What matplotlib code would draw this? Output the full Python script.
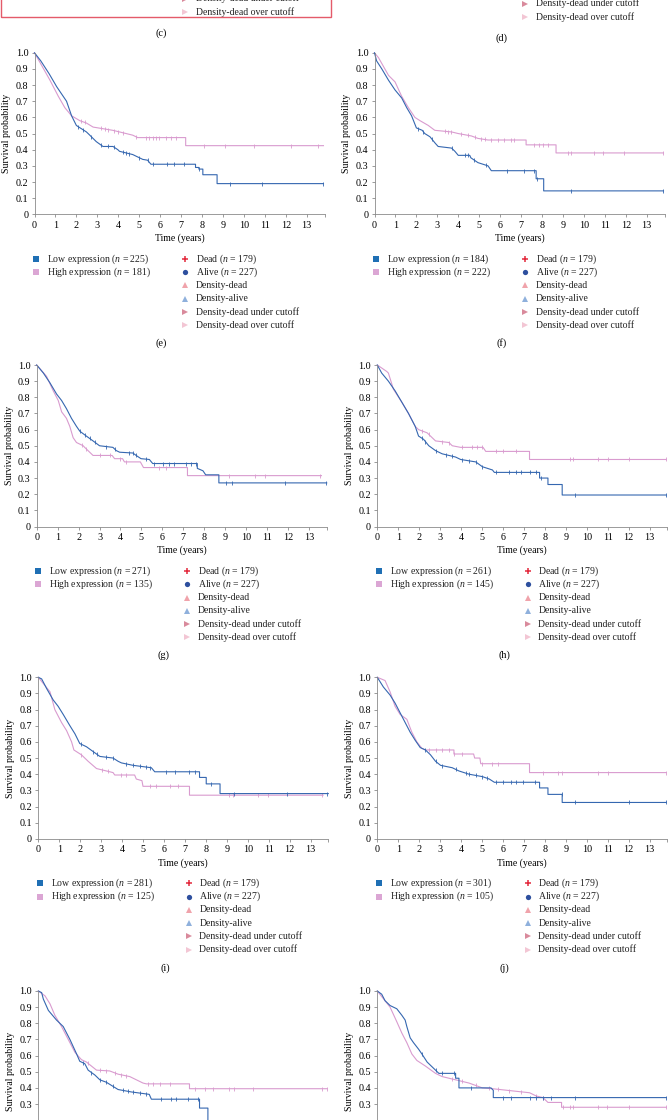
import numpy as np
import matplotlib
matplotlib.use('Agg')
import matplotlib.pyplot as plt
from matplotlib import transforms
from matplotlib.patches import Rectangle

W, H = 671, 1120

plt.rcParams['font.family'] = 'Liberation Serif'
plt.rcParams['mathtext.fontset'] = 'custom'
plt.rcParams['mathtext.rm'] = 'Liberation Serif'
plt.rcParams['mathtext.it'] = 'Liberation Serif:italic'

LOW_COLOR = '#3567b0'
HIGH_COLOR = '#d99bcf'

# ---- data (time in years, survival) ----
e_low_t = [0, 0.3, 0.7, 1.06, 1.53, 1.77, 2.0, 2.24, 2.48, 2.64, 2.95, 3.27, 3.75, 3.98, 4.06, 4.69, 5.17, 5.4, 5.56, 7.69, 7.69, 7.85, 7.85, 8.04, 8.04, 8.72, 8.72, 13.8]
e_low_s = [1.0, 0.95, 0.87, 0.79, 0.70, 0.61, 0.55, 0.53, 0.51, 0.49, 0.45, 0.42, 0.42, 0.40, 0.39, 0.37, 0.34, 0.335, 0.31, 0.31, 0.29, 0.29, 0.28, 0.28, 0.245, 0.245, 0.19, 0.19]
e_low_c = [2.09, 2.32, 2.72, 3.19, 3.51, 3.82, 4.22, 4.38, 4.53, 5.0, 5.4, 5.64, 6.35, 6.67, 7.14, 7.85, 9.35, 10.85, 13.78]
e_high_t = [0, 0.35, 0.74, 1.14, 1.45, 1.77, 2.16, 2.48, 2.8, 3.74, 4.06, 4.69, 4.93, 7.22, 7.22, 13.8]
e_high_s = [1.0, 0.92, 0.83, 0.73, 0.66, 0.61, 0.58, 0.565, 0.54, 0.52, 0.51, 0.49, 0.475, 0.475, 0.425, 0.425]
e_high_c = [2.2, 2.4, 3.19, 3.35, 3.51, 3.82, 3.98, 4.22, 4.85, 5.32, 5.48, 5.64, 5.8, 5.96, 6.27, 6.51, 6.75, 8.09, 9.12, 10.46, 12.27, 13.54]

f_low_t = [0, 0.1, 0.35, 0.67, 0.98, 1.3, 1.54, 1.77, 2.0, 2.28, 2.4, 2.65, 2.9, 3.04, 3.68, 3.84, 4.0, 4.55, 4.6, 4.94, 5.42, 5.58, 7.72, 7.72, 8.08, 8.08, 13.8]
f_low_s = [1.0, 0.95, 0.90, 0.83, 0.77, 0.72, 0.66, 0.61, 0.535, 0.52, 0.50, 0.48, 0.44, 0.42, 0.41, 0.39, 0.365, 0.365, 0.35, 0.32, 0.30, 0.27, 0.27, 0.22, 0.22, 0.145, 0.145]
f_low_c = [2.09, 2.33, 2.73, 3.68, 4.3, 4.45, 4.76, 5.31, 6.34, 7.14, 7.62, 7.78, 9.37, 13.8]
f_high_t = [0, 0.19, 0.67, 0.98, 1.3, 1.62, 1.93, 2.17, 2.57, 2.88, 3.68, 4.0, 4.63, 4.94, 5.42, 7.24, 7.24, 8.67, 8.67, 13.8]
f_high_s = [1.0, 0.97, 0.86, 0.82, 0.73, 0.66, 0.60, 0.58, 0.55, 0.52, 0.51, 0.50, 0.485, 0.47, 0.46, 0.46, 0.43, 0.43, 0.38, 0.38]
f_high_c = [3.35, 3.51, 3.66, 4.14, 4.46, 4.78, 5.1, 5.26, 5.58, 5.9, 6.2, 6.5, 6.66, 7.6, 7.88, 8.03, 8.27, 9.23, 9.39, 10.5, 10.9, 11.9, 13.8]

g_low_t = [0, 0.32, 0.63, 0.95, 1.19, 1.42, 1.66, 1.9, 2.06, 2.37, 2.69, 3.0, 3.64, 3.8, 3.96, 4.59, 4.75, 4.98, 5.38, 5.54, 7.67, 7.67, 7.94, 8.07, 8.7, 8.7, 13.85]
g_low_s = [1.0, 0.95, 0.89, 0.82, 0.78, 0.73, 0.67, 0.62, 0.59, 0.56, 0.53, 0.50, 0.49, 0.47, 0.46, 0.455, 0.44, 0.42, 0.415, 0.39, 0.39, 0.36, 0.345, 0.32, 0.32, 0.27, 0.27]
g_low_c = [2.06, 2.29, 2.53, 2.77, 3.32, 3.72, 4.43, 4.59, 4.75, 5.22, 5.62, 6.01, 6.33, 6.57, 7.12, 7.36, 7.59, 9.02, 9.34, 11.87, 13.84]
g_high_t = [0, 0.47, 0.79, 1.03, 1.19, 1.42, 1.58, 1.74, 1.9, 2.22, 2.29, 2.69, 3.6, 3.72, 4.1, 4.19, 4.95, 5.1, 7.2, 7.2, 13.6]
g_high_s = [1.0, 0.93, 0.84, 0.78, 0.71, 0.67, 0.62, 0.55, 0.52, 0.50, 0.49, 0.44, 0.44, 0.42, 0.42, 0.40, 0.40, 0.365, 0.365, 0.315, 0.315]
g_high_c = [2.14, 2.37, 3.0, 3.48, 3.96, 4.27, 5.85, 6.17, 9.18, 10.44, 10.92, 13.53]

h_low_t = [0, 0.21, 0.53, 0.85, 1.17, 1.49, 1.81, 1.97, 2.21, 2.46, 2.78, 3.1, 3.74, 3.98, 4.7, 5.02, 5.5, 5.59, 7.75, 7.75, 8.15, 8.15, 8.83, 8.83, 13.8]
h_low_s = [1.0, 0.95, 0.90, 0.84, 0.77, 0.70, 0.62, 0.56, 0.54, 0.50, 0.47, 0.45, 0.43, 0.415, 0.40, 0.37, 0.35, 0.335, 0.335, 0.30, 0.30, 0.26, 0.26, 0.195, 0.195]
h_low_c = [2.13, 2.3, 2.78, 3.26, 3.58, 4.06, 4.38, 4.7, 5.02, 5.67, 6.31, 6.63, 6.87, 7.27, 7.59, 7.83, 9.44, 13.8]
h_high_t = [0, 0.45, 0.53, 0.77, 1.17, 1.49, 1.81, 1.97, 2.38, 2.78, 3.42, 3.58, 3.98, 5.05, 5.18, 7.27, 7.27, 13.8]
h_high_s = [1.0, 0.96, 0.95, 0.85, 0.77, 0.70, 0.62, 0.60, 0.58, 0.53, 0.52, 0.50, 0.49, 0.49, 0.465, 0.465, 0.415, 0.415]
h_high_c = [2.13, 2.46, 3.1, 3.42, 4.06, 4.54, 4.78, 5.02, 5.67, 5.99, 6.63, 9.2, 9.36, 10.56, 11.04, 12.0, 13.8]

i_low_t = [0, 0.16, 0.4, 0.71, 0.95, 1.19, 1.51, 1.75, 1.98, 2.3, 2.62, 2.94, 3.57, 3.81, 3.97, 4.52, 5.4, 5.56, 7.7, 7.7, 8.02, 8.02, 8.68, 8.68, 13.85]
i_low_s = [1.0, 0.99, 0.93, 0.86, 0.82, 0.77, 0.70, 0.65, 0.59, 0.57, 0.54, 0.51, 0.50, 0.48, 0.47, 0.455, 0.44, 0.415, 0.415, 0.38, 0.38, 0.34, 0.34, 0.28, 0.28]
i_low_c = [2.06, 2.62, 2.78, 3.25, 3.57, 4.21, 4.52, 4.84, 5.16, 5.32, 6.11, 6.51, 7.22, 7.46, 8.25, 9.37, 11.9, 13.8]
i_high_t = [0, 0.56, 0.79, 1.11, 1.35, 1.59, 1.7, 2.06, 2.38, 2.78, 3.57, 3.65, 4.6, 4.68, 4.95, 5.0, 7.22, 7.22, 13.6]
i_high_s = [1.0, 0.91, 0.80, 0.72, 0.67, 0.60, 0.55, 0.52, 0.48, 0.435, 0.41, 0.395, 0.395, 0.37, 0.36, 0.325, 0.325, 0.27, 0.27]
i_high_c = [2.06, 3.02, 3.33, 3.97, 4.21, 5.32, 5.63, 6.27, 6.67, 9.13, 9.29, 10.48, 10.95, 13.57]

j_low_t = [0, 0.29, 0.61, 0.85, 1.09, 1.33, 1.57, 1.81, 2.05, 2.3, 2.54, 2.78, 3.02, 3.58, 3.9, 4.38, 5.02, 5.35, 5.59, 7.75, 7.75, 8.15, 8.15, 8.83, 8.83, 13.8]
j_low_s = [1.0, 0.94, 0.89, 0.84, 0.78, 0.72, 0.66, 0.61, 0.565, 0.55, 0.52, 0.48, 0.455, 0.44, 0.42, 0.40, 0.385, 0.37, 0.35, 0.35, 0.315, 0.315, 0.275, 0.275, 0.225, 0.225]
j_low_c = [2.3, 2.78, 3.1, 3.74, 4.22, 4.38, 4.7, 5.02, 5.26, 5.67, 5.99, 6.39, 6.63, 6.95, 7.51, 8.8, 9.44, 12.0, 13.8]
j_high_t = [0, 0.37, 0.61, 0.85, 1.09, 1.41, 1.65, 1.89, 2.13, 2.3, 3.66, 3.66, 4.6, 4.65, 4.9, 4.94, 7.27, 7.27, 13.8]
j_high_s = [1.0, 0.98, 0.91, 0.82, 0.77, 0.74, 0.66, 0.60, 0.56, 0.55, 0.55, 0.525, 0.525, 0.50, 0.50, 0.465, 0.465, 0.41, 0.41]
j_high_c = [2.46, 2.78, 3.1, 3.42, 3.66, 4.06, 5.02, 5.5, 5.75, 7.91, 8.64, 8.8, 10.56, 11.04, 13.77]

k_low_t = [0, 0.16, 0.24, 0.48, 0.87, 1.19, 1.51, 1.83, 1.98, 2.22, 2.38, 2.7, 2.94, 3.25, 3.81, 4.44, 5.3, 5.4, 7.7, 7.7, 8.1, 8.1, 13.8]
k_low_s = [1.0, 0.99, 0.95, 0.88, 0.82, 0.78, 0.70, 0.61, 0.565, 0.55, 0.51, 0.48, 0.45, 0.435, 0.39, 0.375, 0.36, 0.33, 0.33, 0.275, 0.275, 0.15, 0.15]
k_low_c = [2.14, 2.54, 2.94, 3.25, 3.57, 4.05, 4.29, 4.52, 4.84, 5.16, 5.87, 6.35, 6.59, 7.14, 7.62]
k_high_t = [0, 0.32, 0.56, 0.79, 1.11, 1.43, 1.75, 2.06, 2.3, 2.78, 3.41, 3.81, 4.37, 5.0, 5.16, 7.22, 7.22, 13.8]
k_high_s = [1.0, 0.97, 0.92, 0.85, 0.78, 0.70, 0.62, 0.575, 0.56, 0.51, 0.505, 0.485, 0.47, 0.43, 0.425, 0.425, 0.395, 0.395]
k_high_c = [2.38, 2.94, 3.25, 3.65, 3.97, 4.21, 5.24, 5.48, 5.79, 6.27, 7.46, 7.94, 8.33, 9.13, 9.37, 10.24, 13.57, 13.8]

l_low_t = [0, 0.21, 0.37, 0.61, 0.93, 1.17, 1.33, 1.41, 1.57, 1.73, 1.97, 2.13, 2.38, 2.62, 2.78, 2.94, 3.74, 3.74, 3.9, 3.9, 5.43, 5.54, 5.54, 13.8]
l_low_s = [1.0, 0.98, 0.94, 0.91, 0.89, 0.85, 0.82, 0.78, 0.71, 0.68, 0.64, 0.61, 0.56, 0.53, 0.51, 0.49, 0.49, 0.46, 0.46, 0.40, 0.40, 0.385, 0.34, 0.34]
l_low_c = [2.13, 2.78, 3.1, 3.66, 4.46, 5.99, 6.39, 7.27, 7.59, 7.91, 8.31, 9.44, 13.8]
l_high_t = [0, 0.61, 0.93, 1.17, 1.41, 1.65, 1.89, 2.3, 2.78, 3.1, 3.74, 4.38, 5.02, 5.5, 7.27, 7.59, 7.91, 8.15, 8.8, 8.8, 13.8]
l_high_s = [1.0, 0.90, 0.81, 0.74, 0.68, 0.61, 0.57, 0.535, 0.49, 0.47, 0.45, 0.43, 0.40, 0.395, 0.37, 0.35, 0.34, 0.31, 0.31, 0.28, 0.28]
l_high_c = [3.58, 4.06, 4.7, 5.35, 5.75, 6.31, 6.87, 7.59, 7.91, 8.88, 9.2, 9.36, 10.56, 10.96, 12.0, 13.8]

panel_letters = ['e', 'f', 'g', 'h', 'i', 'j', 'k', 'l']
n_low = [225, 184, 271, 261, 281, 301, None, None]
n_high = [181, 222, 135, 145, 125, 105, None, None]
n_dead, n_alive = 179, 227

curves = {
    'e': (e_low_t, e_low_s, e_low_c, e_high_t, e_high_s, e_high_c),
    'f': (f_low_t, f_low_s, f_low_c, f_high_t, f_high_s, f_high_c),
    'g': (g_low_t, g_low_s, g_low_c, g_high_t, g_high_s, g_high_c),
    'h': (h_low_t, h_low_s, h_low_c, h_high_t, h_high_s, h_high_c),
    'i': (i_low_t, i_low_s, i_low_c, i_high_t, i_high_s, i_high_c),
    'j': (j_low_t, j_low_s, j_low_c, j_high_t, j_high_s, j_high_c),
    'k': (k_low_t, k_low_s, k_low_c, k_high_t, k_high_s, k_high_c),
    'l': (l_low_t, l_low_s, l_low_c, l_high_t, l_high_s, l_high_c),
}

# right-hand legend entries: label, marker, colour
status_entries = [
    ('Dead ($n$ = {})'.format(n_dead), '+', '#e3283c'),
    ('Alive ($n$ = {})'.format(n_alive), 'o', '#2d4f9e'),
    ('Density-dead', '^', '#f0a3ab'),
    ('Density-alive', '^', '#8fb0dc'),
    ('Density-dead under cutoff', '>', '#d98a9c'),
    ('Density-dead over cutoff', '>', '#f3c6d4'),
]

FS = 7
ROW0, ROWH = 44.5, 13.25

fig = plt.figure(figsize=(W / 100, H / 100), dpi=100)


def px_axes(left, top, width, height):
    return fig.add_axes([left / W, 1 - (top + height) / H, width / W, height / H])


def at(ax, dx, dy):
    # offset from the lower-left corner of the axes, in pixels (dy downward)
    return transforms.offset_copy(ax.transAxes, fig=fig, x=dx, y=-dy, units='dots')


def legend_rows(ax, entries, dx_marker, dx_text, first_row=0):
    for k, (label, marker, color) in enumerate(entries, start=first_row):
        dy = ROW0 + ROWH * k
        ms = 5 if marker == '+' else 3.8
        ax.plot([0], [0], marker=marker, color=color, ms=ms, mew=1.1 if marker == '+' else 0,
                transform=at(ax, dx_marker, dy), clip_on=False)
        ax.text(0, 0, label, transform=at(ax, dx_text, dy), fontsize=FS,
                ha='left', va='center', color='#222222')


def draw_panel(ax, letter, nl, nh, cut):
    lt, ls, lc, ht, hs, hc = curves[letter]
    for t, s, c, col in ((ht, hs, hc, HIGH_COLOR), (lt, ls, lc, LOW_COLOR)):
        ax.plot(t, s, color=col, lw=0.8, clip_on=False)
        ax.plot(c, np.interp(c, t, s), ls='none', marker='|', ms=3, mew=0.6,
                color=col, clip_on=False)
    ax.set_xlim(0, 13.85)
    ax.set_ylim(0, 1.0)
    for side in ('top', 'right'):
        ax.spines[side].set_visible(False)
    for side in ('left', 'bottom'):
        ax.spines[side].set_color('#8a8a8a')
        ax.spines[side].set_linewidth(0.6)
    yt = np.arange(0, 1.01, 0.1)
    ylabels = ['0'] + ['{:.1f}'.format(v) for v in yt[1:]]
    if cut:
        # the bottom row runs off the page: only the upper tick labels show
        ylabels = [lab if v > 0.25 else '' for v, lab in zip(yt, ylabels)]
    ax.set_xticks(range(0, 14))
    ax.set_xticks([13.85], minor=True)
    ax.set_yticks(yt)
    ax.set_yticklabels(ylabels)
    ax.tick_params(which='both', direction='out', length=2.5, width=0.6, color='#8a8a8a',
                   labelsize=FS + 0.3, pad=2)
    ax.set_ylabel('Survival probability', fontsize=FS, labelpad=3)
    if cut:
        ax.set_xticklabels([])
        return
    ax.text(0.5, 0, 'Time (years)', transform=at(ax, 0, 24), fontsize=FS,
            ha='center', va='center')
    legend_rows(ax, [('Low expression ($n$ = {})'.format(nl), 's', '#1f6fb4'),
                     ('High expression ($n$ = {})'.format(nh), 's', '#dba6d4')], 1.5, 12.3)
    legend_rows(ax, status_entries, 150.5, 161)
    ax.text(0, 0, '({})'.format(letter), transform=at(ax, 127, 129), fontsize=FS + 0.5,
            ha='center', va='center')


tops = [52.8, 365.0, 677.3, 991.0]
lefts = [(34.5, 374.5), (36.7, 377.3), (38.3, 377.3), (38.3, 377.3)]
AX_W, AX_H = 290, 161.5

for r in range(4):
    for c in range(2):
        idx = 2 * r + c
        ax = px_axes(lefts[r][c], tops[r], AX_W, AX_H)
        draw_panel(ax, panel_letters[idx], n_low[idx], n_high[idx], cut=(r == 3))

# tail of panels (c) and (d) above: only their last legend rows and labels show
for left, bottom, letter in ((34.5, -99.0, 'c'), (374.5, -94.0, 'd')):
    ax = px_axes(left, bottom - AX_H, AX_W, AX_H)
    ax.set_axis_off()
    legend_rows(ax, status_entries[4:], 150.5, 161, first_row=4)
    ax.text(0, 0, '({})'.format(letter), transform=at(ax, 127, 129 + 3), fontsize=FS + 0.5,
            ha='center', va='center')

# highlight frame around panel (c)
fig.add_artist(Rectangle((0.8 / W, 1 - 17.3 / H), 330 / W, 30 / H, transform=fig.transFigure,
                         fill=False, ec='#e45b6a', lw=1.0))

fig.savefig('out.png', dpi=100)
